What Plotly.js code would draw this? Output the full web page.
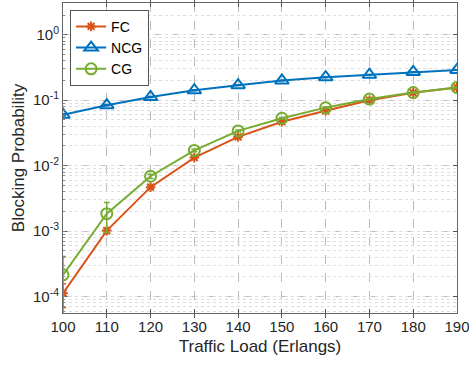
<!DOCTYPE html>
<html><head><meta charset="utf-8">
<script src="https://cdn.plot.ly/plotly-3.0.1.min.js"></script>
<style>html,body{margin:0;padding:0;background:#fff}#chart{width:469px;height:366px}</style>
</head><body><div id="chart"></div>
<script>
const load = [100,110,120,130,140,150,160,170,180,190];
const fc  = [1.13e-4,1.02e-3,4.7e-3,0.0133,0.0275,0.047,0.069,0.100,0.130,0.157];
const fcErr = [0.45e-4,0.1e-3,0.3e-3,0.0006,0.001,0.0015,0.002,0.002,0.002,0.002];
const ncg = [0.060,0.084,0.112,0.142,0.170,0.200,0.225,0.245,0.270,0.290];
const ncgErr = [0.002,0.002,0.002,0.002,0.002,0.002,0.002,0.002,0.002,0.002];
const cg  = [2.15e-4,1.85e-3,6.9e-3,0.0171,0.034,0.053,0.077,0.104,0.131,0.157];
const cgErr = [1.95e-4,0.9e-3,0.5e-3,0.0008,0.001,0.0015,0.002,0.002,0.002,0.002];
const yTicks = [1e-4,1e-3,1e-2,1e-1,1];
const yTickText = ['10<sup>-4</sup>','10<sup>-3</sup>','10<sup>-2</sup>','10<sup>-1</sup>','10<sup>0</sup>'];
const names = ['FC','NCG','CG'];
const colors = ['#D95319','#0072BD','#77AC30'];

function tr(y, err, name, color, symbol, size){
  return {x: load, y: y, name: name, type:'scatter', mode:'lines+markers',
    line:{color:color, width:2},
    marker:{symbol:symbol, size:size, color:color, line:{color:color, width:2}},
    error_y:{type:'data', array: err, visible:true, color:color, thickness:1.5, width:3}};
}
const data = [
  tr(fc, fcErr, names[0], colors[0], 'asterisk-open', 8),
  tr(ncg, ncgErr, names[1], colors[1], 'triangle-up-open', 12),
  tr(cg, cgErr, names[2], colors[2], 'circle-open', 11),
  {x:[100,190], y:[1,1], yaxis:'y2', mode:'none', showlegend:false, hoverinfo:'skip'}
];
const FAM = 'Liberation Sans, Arial, sans-serif';
const tickF = {family:FAM, size:15, color:'#262626'};
const titleF = {family:FAM, size:17, color:'#262626'};
const layout = {
  width:469, height:366,
  margin:{l:63, r:12, t:3, b:53},
  paper_bgcolor:'#fff', plot_bgcolor:'#fff',
  font:{family:FAM, size:15, color:'#262626'},
  showlegend:true,
  legend:{x:0.018, y:0.978, xanchor:'left', yanchor:'top', bgcolor:'#fff',
    bordercolor:'#555', borderwidth:1, font:{family:FAM, size:14, color:'#000'},
    tracegroupgap:0, itemwidth:30, traceorder:'normal'},
  xaxis:{range:[100,190], tickvals:load, ticks:'inside', ticklen:4, tickcolor:'#555',
    showline:true, mirror:'allticks', linecolor:'#666', linewidth:1,
    showgrid:true, gridcolor:'#bbb', griddash:'dash', gridwidth:1, zeroline:false,
    tickfont:tickF, ticklabeloverflow:'allow',
    title:{text:'Traffic Load (Erlangs)', font:titleF, standoff:6}},
  yaxis:{type:'log', range:[-4.25,0.485], tickmode:'array', tickvals:yTicks, ticktext:yTickText,
    ticks:'inside', ticklen:4, tickcolor:'#555',
    showline:true, mirror:'allticks', linecolor:'#666', linewidth:1,
    showgrid:true, gridcolor:'#bbb', griddash:'dash', gridwidth:1, zeroline:false,
    tickfont:tickF, ticklabeloverflow:'allow',
    title:{text:'Blocking Probability', font:titleF, standoff:4}},
  yaxis2:{type:'log', range:[-4.25,0.485], overlaying:'y', side:'left', dtick:'D1',
    showticklabels:false, ticks:'inside', ticklen:2, tickcolor:'#888',
    showgrid:true, gridcolor:'#ddd', griddash:'dot', gridwidth:1, zeroline:false, showline:false}
};
Plotly.newPlot('chart', data, layout, {displayModeBar:false, staticPlot:true});
</script></body></html>
